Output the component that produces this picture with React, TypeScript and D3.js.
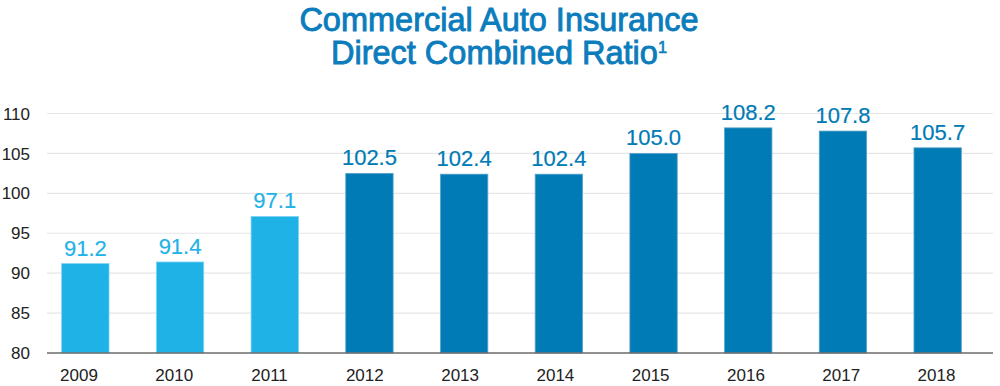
import React from "react";
import * as d3 from "d3";

const years = ["2009", "2010", "2011", "2012", "2013", "2014", "2015", "2016", "2017", "2018"];
const ratios = [91.2, 91.4, 97.1, 102.5, 102.4, 102.4, 105.0, 108.2, 107.8, 105.7];
const highlighted = [true, true, true, false, false, false, false, false, false, false];
const yTicks = [80, 85, 90, 95, 100, 105, 110];
const titleLine1 = "Commercial Auto Insurance";
const titleLine2 = "Direct Combined Ratio";
const titleNote = "1";

const W = 1000;
const H = 386;
const LIGHT = "#1fb2e7";
const DARK = "#007bb5";
const FONT = "'Liberation Sans', Arial, Helvetica, sans-serif";

export default function App() {
  const x = d3.scaleBand<string>().domain(years).range([38, 985]).paddingInner(0.5).paddingOuter(0.25);
  const xLab = d3.scalePoint<string>().domain(years).range([79, 936.5]);
  const y = d3.scaleLinear().domain([80, 110]).range([353, 113.5]);

  return (
    <div style={{ position: "absolute", left: 0, top: 0 }}>
      <svg width={W} height={H} style={{ display: "block", background: "#fff" }}>
        <g fontFamily={FONT}>
          <text x={499} y={31} textAnchor="middle" fill="#0b7cbc" fontSize={32.5} stroke="#0b7cbc" strokeWidth={0.9}>
            {titleLine1}
          </text>
          <text x={499} y={63.5} textAnchor="middle" fill="#0b7cbc" fontSize={32.5} stroke="#0b7cbc" strokeWidth={0.9}>
            {titleLine2}
            <tspan fontSize={16.5} dy={-10.5} strokeWidth={0.6}>{titleNote}</tspan>
          </text>

          {yTicks.map((t) => (
            <g key={t}>
              {t !== 80 && (
                <line x1={47} x2={993} y1={y(t)} y2={y(t)} stroke="#e6e6e6" strokeWidth={1.2} />
              )}
              <text x={30} y={y(t)} dy="0.36em" textAnchor="end" fontSize={17} fill="#222">
                {t}
              </text>
            </g>
          ))}

          {years.map((yr, i) => {
            const c = highlighted[i] ? LIGHT : DARK;
            const bx = x(yr)!;
            const top = y(ratios[i]);
            return (
              <g key={yr}>
                <rect
                  x={bx}
                  y={top}
                  width={x.bandwidth()}
                  height={y(80) - top}
                  fill={c}
                  stroke={highlighted[i] ? "#7fd3f2" : "#5aa3cc"}
                  strokeWidth={0.8}
                />
                <text x={bx + x.bandwidth() / 2} y={top - 8} textAnchor="middle" fontSize={22} fill={c} stroke={c} strokeWidth={0.2}>
                  {ratios[i].toFixed(1)}
                </text>
                <text x={xLab(yr)} y={381} textAnchor="middle" fontSize={17} fill="#222">
                  {yr}
                </text>
              </g>
            );
          })}

          <line x1={47} x2={993} y1={y(80)} y2={y(80)} stroke="#6b6b6b" strokeWidth={1.5} />
        </g>
      </svg>
    </div>
  );
}
